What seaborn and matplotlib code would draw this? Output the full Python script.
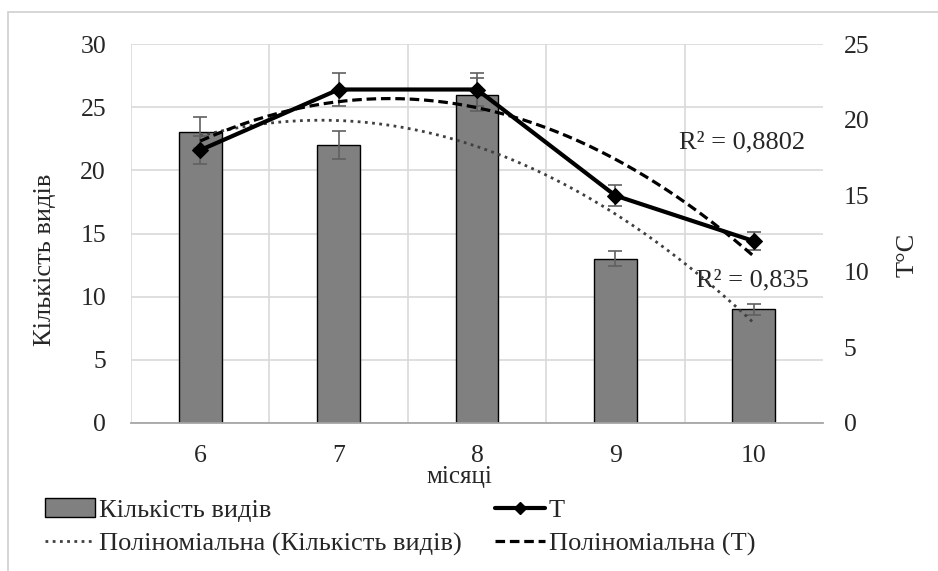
import numpy as np
import matplotlib
matplotlib.use('Agg')
import matplotlib.pyplot as plt
import seaborn as sns
from matplotlib.patches import Patch, Rectangle
from matplotlib.lines import Line2D

# Дані
months = ['6', '7', '8', '9', '10']
species = [23, 22, 26, 13, 9]
species_err = [1.2, 1.1, 1.3, 0.6, 0.45]
temp = [18, 22, 22, 15, 12]
temp_err = [0.9, 1.1, 1.1, 0.7, 0.6]
r2_labels = ['R² = 0,8802', 'R² = 0,835']

sns.set_style('white')
plt.rcParams['font.family'] = ['Liberation Serif', 'DejaVu Serif']
plt.rcParams['font.size'] = 19

fig = plt.figure(figsize=(9.38, 5.71), dpi=100)
ax = fig.add_axes([0.1397, 0.2592, 0.7377, 0.6637])

# рамка навколо діаграми
fig.patches.append(Rectangle((0.0085, -0.05), 1.1, 1.029, transform=fig.transFigure,
                             fill=False, edgecolor='#d0d0d0', linewidth=1.2))

# Стовпці
sns.barplot(x=months, y=species, color='#808080', edgecolor='black', linewidth=1,
            width=0.31, saturation=1, errorbar=None, ax=ax)
pos = np.arange(len(months))
ax.errorbar(pos, species, yerr=species_err, fmt='none', ecolor='#606060',
            elinewidth=1.2, capsize=5, capthick=1.2, zorder=3)

ax.set_xlim(-0.5, len(months) - 0.5)
ax.set_ylim(0, 30)
ax.set_yticks(range(0, 31, 5))
ax.set_xticks(pos - 0.5, minor=True)
ax.set_axisbelow(True)
ax.grid(axis='y', color='#d9d9d9', linewidth=1.2)
ax.grid(axis='x', which='minor', color='#d9d9d9', linewidth=1.2)
ax.grid(axis='x', which='major', visible=False)
for side in ['top', 'left', 'right']:
    ax.spines[side].set_visible(False)
ax.spines['bottom'].set_color('#a6a6a6')
ax.spines['bottom'].set_linewidth(1.3)
ax.tick_params(axis='both', which='both', length=0, labelsize=18.5)
ax.tick_params(axis='y', pad=18)
ax.tick_params(axis='x', pad=16)
ax.set_ylabel('Кількість видів')
ax.yaxis.set_label_coords(-0.108, 0.43)
ax.set_xlabel('місяці', fontsize=18)
ax.xaxis.set_label_coords(0.475, -0.142)
ax.xaxis.label.set_verticalalignment('center')

# Поліноміальний тренд (кількість видів)
xs = np.linspace(0, len(months) - 1, 200)
c1 = np.polyfit(pos, species, 2)
ax.plot(xs, np.polyval(c1, xs), linestyle=(0, (1, 1.6)), color='#404040',
        linewidth=2, zorder=4)

# Температура
ax2 = ax.twinx()
ax2.set_ylim(0, 25)
ax2.set_yticks(range(0, 26, 5))
for side in ['top', 'left', 'right', 'bottom']:
    ax2.spines[side].set_visible(False)
ax2.tick_params(axis='y', length=0, pad=15, labelsize=18.5)
ax2.errorbar(pos, temp, yerr=temp_err, fmt='none', ecolor='#606060',
             elinewidth=1.2, capsize=5, capthick=1.2, zorder=3)
c2 = np.polyfit(pos, temp, 2)
ax2.plot(xs, np.polyval(c2, xs), linestyle=(0, (3, 1.5)), color='black',
         linewidth=2.3, zorder=4)
sns.lineplot(x=pos, y=temp, color='black', linewidth=3, marker='D',
             markersize=8, markeredgecolor='black', ax=ax2, zorder=5)
ax2.set_xlim(-0.5, len(months) - 0.5)
ax2.set_ylabel('T°C')
ax2.yaxis.set_label_coords(1.107, 0.443)

ax.text(0.974, 0.739, r2_labels[0], transform=ax.transAxes, ha='right', va='center')
ax.text(0.98, 0.377, r2_labels[1], transform=ax.transAxes, ha='right', va='center')

handles = [
    Patch(facecolor='#808080', edgecolor='black', label='Кількість видів'),
    Line2D([], [], linestyle=(0, (1, 1.6)), color='#404040', linewidth=2,
           label='Поліноміальна (Кількість видів)'),
    Line2D([], [], color='black', linewidth=3, marker='D', markersize=6, label='T'),
    Line2D([], [], linestyle=(0, (3, 1.5)), color='black', linewidth=2.3,
           label='Поліноміальна (T)'),
]
fig.legend(handles=handles, ncol=2, loc='upper left', bbox_to_anchor=(0.048, 0.127),
           frameon=False, handlelength=1.9, handletextpad=0.15, columnspacing=1.25,
           labelspacing=0.38, borderaxespad=0, borderpad=0)

fig.savefig('out.png', dpi=100)
